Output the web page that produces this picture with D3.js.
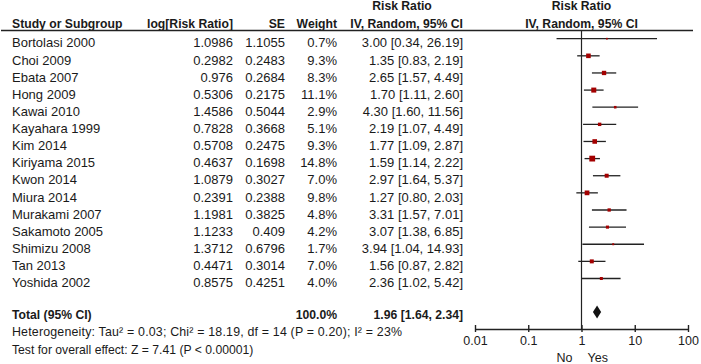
<!DOCTYPE html>
<html>
<head>
<meta charset="utf-8">
<script src="https://cdn.jsdelivr.net/npm/d3@7/dist/d3.min.js"></script>
<style>
  body { margin: 0; background: #fff; }
  text { font-family: "Liberation Sans", Arial, sans-serif; fill: #1a1a1a; }
</style>
</head>
<body>
<div id="chart"></div>
<script>
// Study data
var studies = ["Bortolasi 2000", "Choi 2009", "Ebata 2007", "Hong 2009", "Kawai 2010",
  "Kayahara 1999", "Kim 2014", "Kiriyama 2015", "Kwon 2014", "Miura 2014",
  "Murakami 2007", "Sakamoto 2005", "Shimizu 2008", "Tan 2013", "Yoshida 2002"];
var logRR = [1.0986, 0.2982, 0.976, 0.5306, 1.4586, 0.7828, 0.5708, 0.4637, 1.0879, 0.2391,
  1.1981, 1.1233, 1.3712, 0.4471, 0.8575];
var se = [1.1055, 0.2483, 0.2684, 0.2175, 0.5044, 0.3668, 0.2475, 0.1698, 0.3027, 0.2388,
  0.3825, 0.409, 0.6796, 0.3014, 0.4251];
var weights = [0.7, 9.3, 8.3, 11.1, 2.9, 5.1, 9.3, 14.8, 7.0, 9.8, 4.8, 4.2, 1.7, 7.0, 4.0];
var rr = [3.00, 1.35, 2.65, 1.70, 4.30, 2.19, 1.77, 1.59, 2.97, 1.27, 3.31, 3.07, 3.94, 1.56, 2.36];
var ciLow = [0.34, 0.83, 1.57, 1.11, 1.60, 1.07, 1.09, 1.14, 1.64, 0.80, 1.57, 1.38, 1.04, 0.87, 1.02];
var ciHigh = [26.19, 2.19, 4.49, 2.60, 11.56, 4.49, 2.87, 2.22, 5.37, 2.03, 7.01, 6.85, 14.93, 2.82, 5.42];

var total = { rr: 1.96, low: 1.64, high: 2.34, weight: 100.0 };
var heterogeneity = "Heterogeneity: Tau\u00b2 = 0.03; Chi\u00b2 = 18.19, df = 14 (P = 0.20); I\u00b2 = 23%";
var overallTest = "Test for overall effect: Z = 7.41 (P < 0.00001)";
var tickValues = [0.01, 0.1, 1, 10, 100];
var tickLabels = ["0.01", "0.1", "1", "10", "100"];
var sideLabels = ["No", "Yes"];

var width = 701, height = 364;

var svg = d3.select("#chart").append("svg")
  .attr("width", width)
  .attr("height", height);

// row positions (text centre)
var rowY = d3.scaleLinear().domain([0, 14]).range([42.7, 282.5]);
var totalY = 315;
var markOffset = 4;

var x = d3.scaleLog().domain([0.01, 100]).range([475, 688]);

function txt(xp, yc, s, anchor, size, bold) {
  return svg.append("text")
    .attr("x", xp)
    .attr("y", yc + size * 0.36)
    .attr("text-anchor", anchor)
    .attr("font-size", size)
    .attr("font-weight", bold ? "bold" : "normal")
    .text(s);
}

// Column headers
var hb = 12.2;
txt(12, 24, "Study or Subgroup", "start", hb, true);
txt(233, 24, "log[Risk Ratio]", "end", hb, true);
txt(285, 24, "SE", "end", hb, true);
txt(337, 24, "Weight", "end", hb, true);
txt(402, 6, "Risk Ratio", "middle", hb, true);
txt(463, 24, "IV, Random, 95% CI", "end", hb, true);
txt(x(1), 6, "Risk Ratio", "middle", hb, true);
txt(x(1), 24, "IV, Random, 95% CI", "middle", hb, true);

svg.append("line")
  .attr("x1", 1).attr("x2", 693)
  .attr("y1", 30.5).attr("y2", 30.5)
  .attr("stroke", "#222").attr("stroke-width", 1.3);

// Study rows
var fs = 13;
studies.forEach(function (name, i) {
  var y = rowY(i);
  txt(12, y, name, "start", fs, false);
  txt(233, y, String(logRR[i]), "end", fs, false);
  txt(285, y, String(se[i]), "end", fs, false);
  txt(337, y, weights[i].toFixed(1) + "%", "end", fs, false);
  txt(463, y, rr[i].toFixed(2) + " [" + ciLow[i].toFixed(2) + ", " + ciHigh[i].toFixed(2) + "]", "end", fs, false);
});

// Line of no effect
svg.append("line")
  .attr("x1", x(1)).attr("x2", x(1))
  .attr("y1", 30.5).attr("y2", 329)
  .attr("stroke", "#222").attr("stroke-width", 1.2);

// Confidence intervals
svg.selectAll(".ci")
  .data(studies)
  .enter()
  .append("line")
  .attr("class", "ci")
  .attr("x1", function (d, i) { return x(ciLow[i]); })
  .attr("x2", function (d, i) { return x(ciHigh[i]); })
  .attr("y1", function (d, i) { return rowY(i) - markOffset; })
  .attr("y2", function (d, i) { return rowY(i) - markOffset; })
  .attr("stroke", "#222")
  .attr("stroke-width", 1.3);

// Weight squares
var sizeScale = d3.scaleSqrt().domain([0, 14.8]).range([0, 5.8]);
function side(i) { return Math.max(1.7, sizeScale(weights[i])); }
svg.selectAll(".sq")
  .data(studies)
  .enter()
  .append("rect")
  .attr("class", "sq")
  .attr("x", function (d, i) { return x(rr[i]) - side(i) / 2; })
  .attr("y", function (d, i) { return rowY(i) - markOffset - side(i) / 2; })
  .attr("width", function (d, i) { return side(i); })
  .attr("height", function (d, i) { return side(i); })
  .attr("fill", "#a30000");

// Total row
txt(12, totalY, "Total (95% CI)", "start", hb, true);
txt(337, totalY, total.weight.toFixed(1) + "%", "end", hb, true);
txt(463, totalY, total.rr.toFixed(2) + " [" + total.low.toFixed(2) + ", " + total.high.toFixed(2) + "]", "end", hb, true);

var dy = totalY - 3;
svg.append("path")
  .attr("d", "M" + x(total.low) + "," + dy +
    "L" + x(total.rr) + "," + (dy - 6.5) +
    "L" + x(total.high) + "," + dy +
    "L" + x(total.rr) + "," + (dy + 6.5) + "Z")
  .attr("fill", "#111");

txt(12, 332, heterogeneity, "start", 12.4, false)
  .attr("textLength", 390)
  .attr("lengthAdjust", "spacing");
txt(12, 350, overallTest, "start", 12.2, false);

// Axis
var axisY = 329;
var axis = svg.append("g")
  .attr("transform", "translate(0," + axisY + ")")
  .call(d3.axisBottom(x)
    .tickValues(tickValues)
    .tickFormat(function (d, i) { return tickLabels[i]; })
    .tickSize(7)
    .tickSizeOuter(0));
axis.select(".domain").attr("stroke", "#222").attr("stroke-width", 1.4);
axis.selectAll(".tick line").attr("y1", -4).attr("y2", 3).attr("stroke", "#222").attr("stroke-width", 1.4);
axis.selectAll(".tick text")
  .attr("y", 7)
  .attr("font-size", 12.5)
  .attr("font-family", "Liberation Sans, Arial, sans-serif")
  .attr("fill", "#1a1a1a");

txt(x(1) - 9, 357, sideLabels[0], "end", 12.5, false);
txt(x(1) + 6, 357, sideLabels[1], "start", 12.5, false);
</script>
</body>
</html>
